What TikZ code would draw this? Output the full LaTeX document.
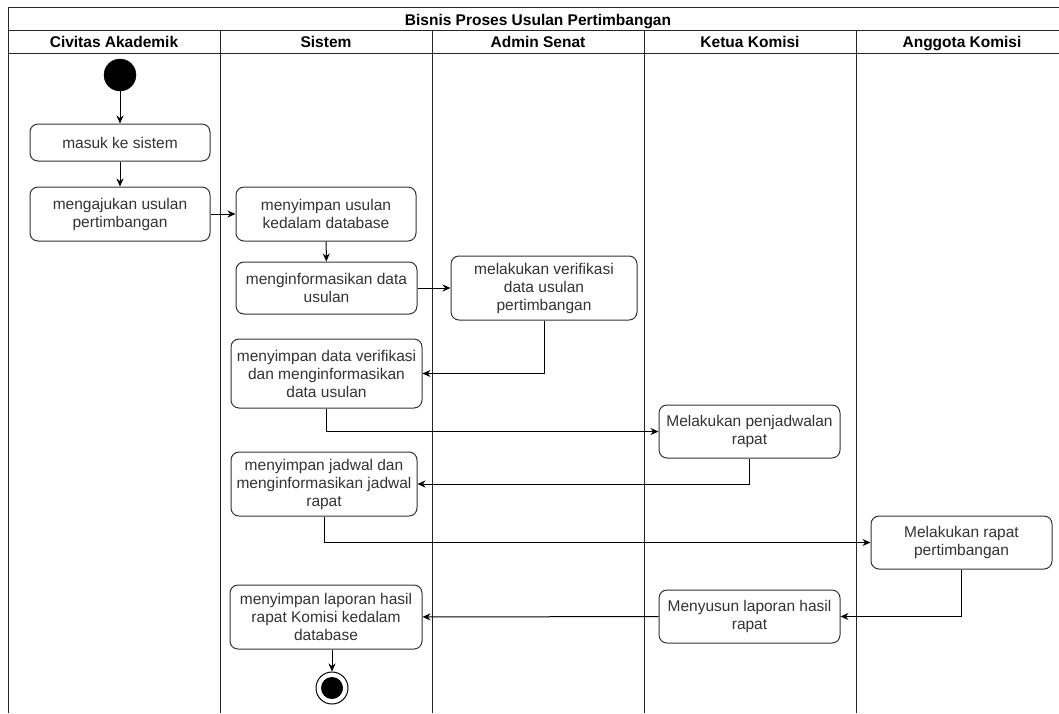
\documentclass[tikz,border=0pt]{standalone}
\usepackage{fontspec}
\setmainfont{Liberation Sans}
\usetikzlibrary{arrows.meta}
\begin{document}
\begin{tikzpicture}[x=1pt,y=-1pt,
  lane/.style={draw=black!85,line width=1pt},
  hdr/.style={font=\fontsize{15.5}{18}\bfseries\selectfont,inner sep=0pt,anchor=base},
  act/.style={draw=black!80,line width=1pt,rounded corners=8pt,fill=white,
    align=center,inner sep=0pt,text=black!80,
    font=\fontsize{15.5}{18}\selectfont},
  flow/.style={draw=black,line width=1pt,-{Stealth[length=8pt,width=7pt]}},
  startnode/.style={circle,fill=black,draw=black,minimum size=32pt,inner sep=0pt},
]
\useasboundingbox (0,0) rectangle (1059,713);
\fill[white] (0,0) rectangle (1059,713);

% pool frame, title row and lane header row
\draw[lane] (8,713) -- (8,7) -- (1059,7);
\draw[lane] (8,30) -- (1059,30);
\draw[lane] (8,53) -- (1059,53);
\foreach \x in {220,432,644,856}
  \draw[lane] (\x,30) -- (\x,713);

\node[hdr] (title) at (538,25) {Bisnis Proses Usulan Pertimbangan};
\node[hdr] (h1) at (114,47) {Civitas Akademik};
\node[hdr] (h2) at (326,47) {Sistem};
\node[hdr] (h3) at (538,47) {Admin Senat};
\node[hdr] (h4) at (750,47) {Ketua Komisi};
\node[hdr] (h5) at (962,47) {Anggota Komisi};

% activities
\node[startnode] (start) at (120,75) {};
\node[act,minimum width=180pt,minimum height=37pt] (masuk) at (120,142.5) {masuk ke sistem};
\node[act,minimum width=180pt,minimum height=54pt] (ajukan) at (120,214) {mengajukan usulan\\pertimbangan};
\node[act,minimum width=180pt,minimum height=54pt] (simpan) at (326,214) {menyimpan usulan\\kedalam database};
\node[act,minimum width=181pt,minimum height=52pt] (info) at (326.5,288) {menginformasikan data\\usulan};
\node[act,minimum width=186pt,minimum height=64pt] (verif) at (544,288) {melakukan verifikasi\\data usulan\\pertimbangan};
\node[act,minimum width=191pt,minimum height=69pt] (simverif) at (326.5,373.5) {menyimpan data verifikasi\\dan menginformasikan\\data usulan};
\node[act,minimum width=181pt,minimum height=53pt] (jadwal) at (749.5,431.5) {Melakukan penjadwalan\\rapat};
\node[act,minimum width=186pt,minimum height=64pt] (simjadwal) at (324,484) {menyimpan jadwal dan\\menginformasikan jadwal\\rapat};
\node[act,minimum width=181pt,minimum height=53pt] (rapat) at (961.5,542.5) {Melakukan rapat\\pertimbangan};
\node[act,minimum width=181pt,minimum height=53pt] (susun) at (749.5,616.5) {Menyusun laporan hasil\\rapat};
\node[act,minimum width=192pt,minimum height=64pt] (laporan) at (326,617) {menyimpan laporan hasil\\rapat Komisi kedalam\\database};
\node[circle,draw=black,line width=1pt,fill=white,minimum size=32pt,inner sep=0pt] (end) at (332,688) {};
\node[circle,fill=black,minimum size=22pt,inner sep=0pt] (endcore) at (end) {};

% control flow
\draw[flow] (start) -- (masuk);
\draw[flow] (masuk) -- (ajukan);
\draw[flow] (ajukan) -- (simpan);
\draw[flow] (simpan) -- (info);
\draw[flow] (info) -- (verif);
\draw[flow] (verif.south) |- (simverif.east);
\draw[flow] (simverif.south) |- (jadwal.west);
\draw[flow] (jadwal.south) |- (simjadwal.east);
\draw[flow] (simjadwal.south) |- (rapat.west);
\draw[flow] (rapat.south) |- (susun.east);
\draw[flow] (susun) -- (laporan);
\draw[flow] (laporan.south -| end) -- (end);
\end{tikzpicture}
\end{document}
